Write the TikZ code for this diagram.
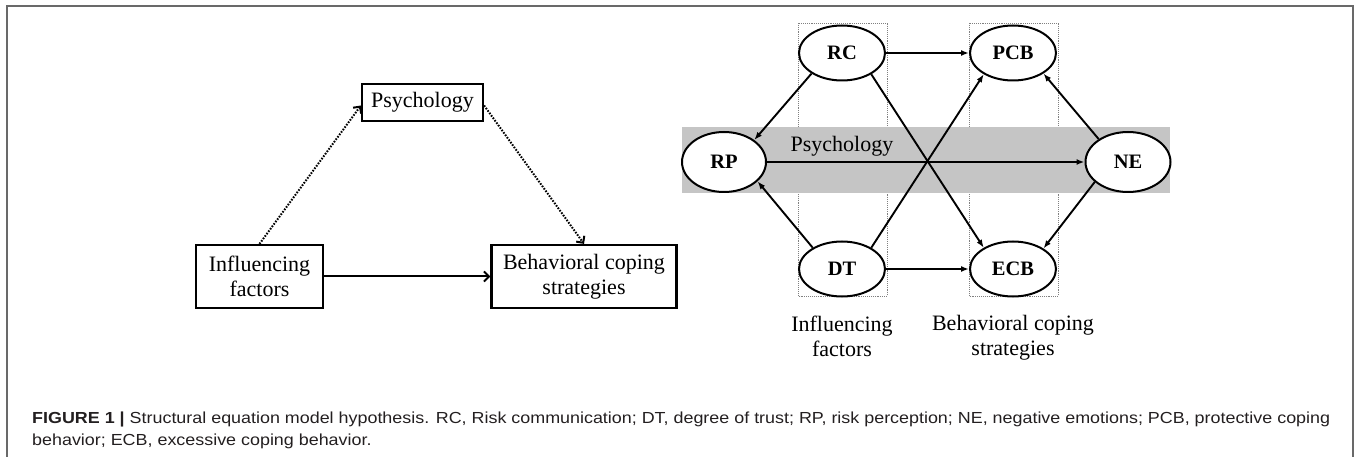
\documentclass[tikz,border=0pt]{standalone}
\usepackage{graphicx}
\usepackage{fontspec}
\setmainfont{Liberation Serif}
\newfontfamily\capfont{Liberation Sans}
\usetikzlibrary{shapes.geometric,arrows.meta}
\definecolor{bandgray}{RGB}{197,197,197}
\definecolor{framegray}{RGB}{105,105,105}
\definecolor{captext}{RGB}{35,31,32}
\begin{document}
\begin{tikzpicture}[x=1pt,y=-1pt,
 box/.style={draw,line width=2.2pt,inner sep=0pt,align=center,font=\fontsize{22}{25}\selectfont},
 ell/.style={draw,ellipse,line width=2pt,fill=white,inner sep=0pt,minimum width=86pt,minimum height=55pt,font=\fontsize{20.5}{24}\selectfont\bfseries},
 lbl/.style={align=center,font=\fontsize{22}{25}\selectfont},
 solidarr/.style={line width=1.9pt,-{Latex[length=8pt,width=6pt]}},
 openarr/.style={line width=2pt,-{Straight Barb[length=5pt,width=10pt,line width=2pt]}},
 dotarr/.style={openarr,dash pattern=on 1.6pt off 1.4pt},
 grouprect/.style={draw=gray,densely dotted,line width=0.9pt},
 captionline/.style={anchor=base west,inner sep=0pt,text=captext,font=\capfont\fontsize{16}{22}\selectfont}
]
\useasboundingbox (0,0) rectangle (1358,457);
% frame
\draw[line width=2pt,framegray] (7,457) -- (7,6) -- (1353,6) -- (1353,457);

% ---------- left diagram ----------
\node[box,minimum width=121pt,minimum height=37pt] (psy) at (422.5,102.5) {Psychology};
\node[box,minimum width=127pt,minimum height=63pt] (inf) at (259.5,276.5) {Influencing\\factors};
\node[box,minimum width=185pt,minimum height=63pt] (beh) at (584,276.5) {Behavioral coping\\strategies};
\draw[openarr] (inf) -- (beh);
\draw[dotarr] (inf.north) -- ([yshift=-3pt]psy.west);
\draw[dotarr] ([yshift=-3pt]psy.east) -- (beh.north);

% ---------- right diagram ----------
\draw[grouprect] (798,23) rectangle (887,296);
\draw[grouprect] (969,23) rectangle (1058,296);
\fill[bandgray] (682,127) rectangle (1170,193);
\node[lbl,anchor=base] (psylbl) at (842,152) {Psychology};

\node[ell] (RC) at (842,53) {RC};
\node[ell] (PCB) at (1013,53) {PCB};
\node[ell] (DT) at (842,269) {DT};
\node[ell] (ECB) at (1013,269) {ECB};
\node[ell,minimum width=84pt,minimum height=60pt] (RP) at (724,162) {RP};
\node[ell,minimum width=85pt,minimum height=60pt] (NE) at (1128,162) {NE};

\draw[solidarr] (RC) -- (PCB);
\draw[solidarr] (DT) -- (ECB);
\draw[solidarr] (RP) -- (NE);
\draw[solidarr] (RC.214) -- (RP.36);
\draw[solidarr] (DT.144) -- (RP.-30);
\draw[solidarr] (RC.-36) -- (ECB.144);
\draw[solidarr] (DT.36) -- (PCB.216);
\draw[solidarr] (NE.142) -- (PCB.-34);
\draw[solidarr] (NE.211) -- (ECB.34);

\node[lbl,anchor=north] (inflbl) at (842,312) {Influencing\\factors};
\node[lbl,anchor=north] (behlbl) at (1013,312) {Behavioral coping\\strategies};

% ---------- caption ----------
\node[captionline] (cap1) at (32,423) {\scalebox{1.119}[1]{\textbf{FIGURE 1 |} Structural equation model hypothesis. RC, Risk communication; DT, degree of trust; RP, risk perception; NE, negative emotions; PCB, protective coping}};
\node[captionline] (cap2) at (32,445) {\scalebox{1.119}[1]{behavior; ECB, excessive coping behavior.}};
\end{tikzpicture}
\end{document}
